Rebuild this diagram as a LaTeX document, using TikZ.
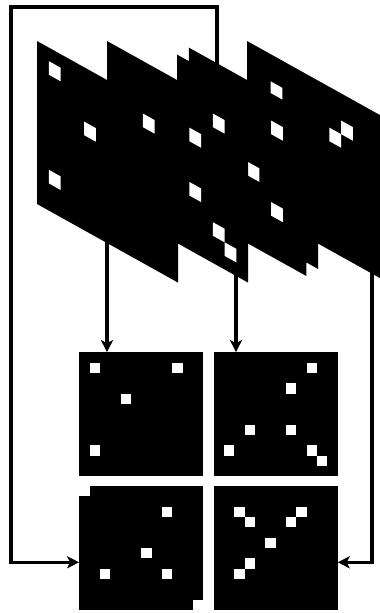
\documentclass[tikz,border=0pt]{standalone}
\usetikzlibrary{arrows.meta}
\begin{document}
\begin{tikzpicture}[x=1pt,y=-1pt]
\useasboundingbox (0,0) rectangle (380,613);
\def\cw{11.75}
\def\ch{13.58}
\def\sl{0.557}
\def\tp{41}
\def\gc{10.333}
\tikzset{
  pix/.style={fill=white},
  sheetbody/.style={fill=black},
  gridbox/.style={rectangle, fill=black, minimum size=124pt, inner sep=0pt},
  link/.style={line width=3.2pt, -{Stealth[length=12pt,width=12pt,inset=3pt]}},
}
\newcommand\plainsheet[1]{\fill[sheetbody] (#1,\tp) -- ++(141,{141*\sl}) -- ++(0,163) -- ++(-141,{-141*\sl}) -- cycle;}
\newcommand\spx[3]{\fill[pix] ({#1+#2*\cw},{\tp+#2*\cw*\sl+#3*\ch}) -- ++(\cw,{\cw*\sl}) -- ++(0,\ch) -- ++({-\cw},{-\cw*\sl}) -- cycle;}
\newcommand\gpx[4]{\fill[pix] ({#1+#3*\gc},{#2+#4*\gc}) rectangle ++(\gc,\gc);}

% bottom grids
\node[gridbox] (g1) at (141.3,414.35) {};
\node[gridbox] (g2) at (275.5,414.35) {};
\node[gridbox] (g3) at (141.3,548) {};
\node[gridbox] (g4) at (275.5,548) {};

% attach points on the sheets
\coordinate (aA) at (107,240);
\coordinate (aB) at (236,272);
\coordinate (aD) at (217,66);
\coordinate (aE) at (372,270);
\coordinate (loop) at (11,7);

% connectors
\draw[link] (aA) -- (aA |- g1.north);
\draw[link] (aB) -- (aB |- g2.north);
\draw[link] (aD) |- (loop) |- ([yshift=-14.3pt]g3.west);
\draw[link] (aE) |- ([yshift=-14.3pt]g4.east);

% sheet E (back)
\plainsheet{247}
\foreach \c/\r in {2/2,3/3,8/2,7/3,5/5,3/7,2/8}{\spx{247}{\c}{\r}}
% sheet D (notched)
\fill[sheetbody] (177,{\tp+\ch}) -- ++(\cw,{\cw*\sl}) -- ++(0,{-\ch}) -- (318,{\tp+141*\sl}) -- ++(0,{11*\ch}) -- ++({-\cw},{-\cw*\sl}) -- ++(0,\ch) -- (177,{\tp+163}) -- cycle;
\foreach \c/\r in {8/2,6/6,2/8,8/8}{\spx{177}{\c}{\r}}
% sheet B
\plainsheet{107}
\foreach \c/\r in {9/1,7/3,3/7,7/7,1/9,9/9,10/10}{\spx{107}{\c}{\r}}
% sheet A (front)
\plainsheet{37}
\foreach \c/\r in {1/1,9/1,4/4,1/9}{\spx{37}{\c}{\r}}

% grid pixels
\foreach \c/\r in {1/1,9/1,4/4,1/9}{\gpx{79.3}{352.35}{\c}{\r}}
\foreach \c/\r in {9/1,7/3,3/7,7/7,1/9,9/9,10/10}{\gpx{213.5}{352.35}{\c}{\r}}
\foreach \c/\r in {8/2,6/6,2/8,8/8,0/0,11/11}{\gpx{79.3}{486}{\c}{\r}}
\foreach \c/\r in {2/2,3/3,8/2,7/3,5/5,3/7,2/8}{\gpx{213.5}{486}{\c}{\r}}
\end{tikzpicture}
\end{document}
